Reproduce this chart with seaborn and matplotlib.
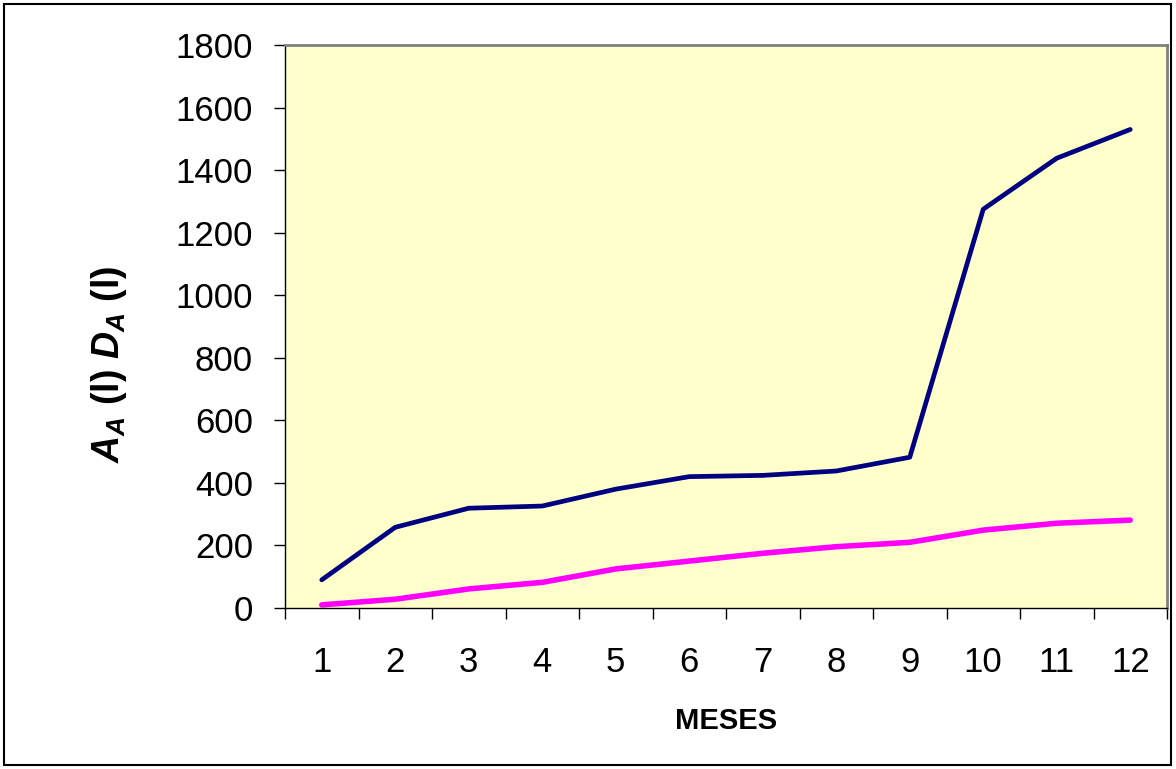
import numpy as np
import pandas as pd
import matplotlib
matplotlib.use("Agg")
import matplotlib.pyplot as plt
import seaborn as sns
from matplotlib.patches import Rectangle
from matplotlib.ticker import MultipleLocator, FixedLocator

# -------------------------------
# 1. Data
# -------------------------------
meses = list(range(1, 13))
serie_aa = [90, 258, 319, 326, 380, 420, 424, 438, 482, 1275, 1438, 1530]
serie_da = [10, 28, 61, 82, 125, 150, 175, 196, 210, 249, 271, 281]

df = pd.DataFrame({
    "mes": meses * 2,
    "valor": serie_aa + serie_da,
    "serie": ["AA"] * 12 + ["DA"] * 12,
})

# -------------------------------
# 2. Style
# -------------------------------
sns.set_style("white")
plt.rcParams["font.family"] = ["Liberation Sans", "DejaVu Sans"]
plt.rcParams["mathtext.fontset"] = "custom"
plt.rcParams["mathtext.it"] = "Liberation Sans:italic:bold"
plt.rcParams["mathtext.rm"] = "Liberation Sans:bold"
plt.rcParams["text.color"] = "black"
plt.rcParams["axes.labelcolor"] = "black"
plt.rcParams["xtick.color"] = "black"
plt.rcParams["ytick.color"] = "black"

fig = plt.figure(figsize=(11.76, 7.69), dpi=100)
ax = fig.add_axes([285 / 1176, 1 - 608 / 769, 882 / 1176, 563 / 769])
ax.set_facecolor("#FFFFCC")

# -------------------------------
# 3. Lines
# -------------------------------
sns.lineplot(
    data=df, x="mes", y="valor", hue="serie",
    palette={"AA": "#000080", "DA": "#FF00FF"},
    linewidth=3.4, legend=False, ax=ax,
)
for line in ax.lines:
    line.set_solid_capstyle("round")
ax.lines[1].set_linewidth(4.0)

# -------------------------------
# 4. Axes
# -------------------------------
ax.set_xlim(0.5, 12.5)
ax.set_ylim(0, 1800)
ax.yaxis.set_major_locator(MultipleLocator(200))
ax.set_xticks(meses)
ax.xaxis.set_minor_locator(FixedLocator(np.arange(0.5, 13, 1)))
ax.tick_params(axis="x", which="major", length=0, pad=27, labelsize=25)
ax.tick_params(axis="x", which="minor", length=8, width=1, color="black", direction="out", bottom=True)
ax.tick_params(axis="y", length=8, width=1, color="black", direction="out", left=True, pad=15, labelsize=25)

for side in ["left", "bottom"]:
    ax.spines[side].set_color("black")
    ax.spines[side].set_linewidth(1)
for side in ["top", "right"]:
    ax.spines[side].set_color("#808080")
    ax.spines[side].set_linewidth(2)

ax.set_xlabel("MESES", fontsize=21, fontweight="bold")
ax.xaxis.set_label_coords(0.5, (608 - 707) / 563)
ax.set_ylabel(r"$A_A$ (l) $D_A$ (l)", fontsize=27, fontweight="bold")
ax.yaxis.set_label_coords((129 - 285) / 882, 0.433)

# figure border
fig.patches.append(Rectangle((4 / 1176, 4 / 769), 1167 / 1176, 761 / 769,
                             transform=fig.transFigure, fill=False,
                             edgecolor="black", linewidth=1.5))

fig.savefig("out.png", dpi=100)
